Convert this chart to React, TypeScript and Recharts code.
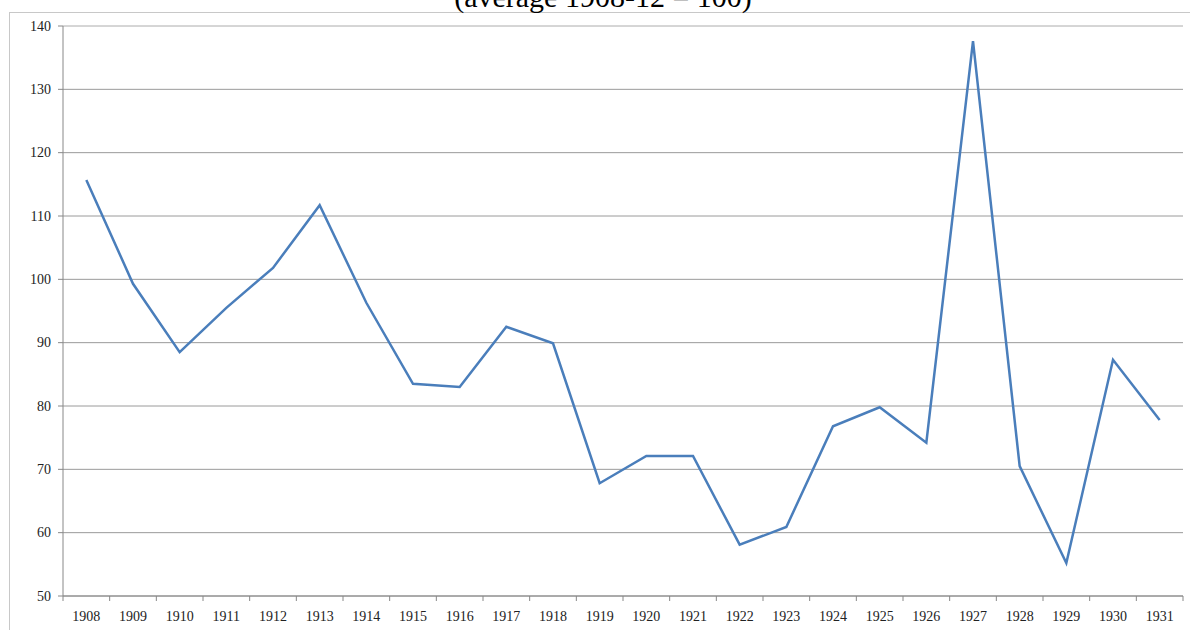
import React from 'react';
import { LineChart, Line, XAxis, YAxis, CartesianGrid, ReferenceLine } from 'recharts';

const years = ['1908','1909','1910','1911','1912','1913','1914','1915','1916','1917','1918','1919','1920','1921','1922','1923','1924','1925','1926','1927','1928','1929','1930','1931'];
const values = [115.7, 99.3, 88.5, 95.5, 101.8, 111.7, 96.3, 83.5, 83.0, 92.5, 89.9, 67.8, 72.1, 72.1, 58.1, 60.9, 76.8, 79.8, 74.2, 137.6, 70.5, 55.2, 87.3, 77.8];
const yTicks = [50, 60, 70, 80, 90, 100, 110, 120, 130, 140];
const title = '(average 1908-12 = 100)';

const W = 1190;
const H = 630;
const margin = { top: 26, right: 7, bottom: 4, left: 10 };
const yAxisWidth = 53;
const plotWidth = W - margin.left - margin.right - yAxisWidth;

const data = values.map((v, i) => ({ x: i + 0.5, year: years[i], value: v }));
const xTicks = Array.from({ length: years.length + 1 }, (_, i) => i);

const fontFamily = '"Liberation Serif", "DejaVu Serif", serif';

const XTick = (props: any) => {
  const { x, y, payload } = props;
  const idx = payload.value as number;
  const step = plotWidth / years.length;
  return (
    <g>
      <line x1={x} y1={y} x2={x} y2={y + 5} stroke="#888" strokeWidth={1} />
      {idx < years.length && (
        <text x={x + step / 2} y={y + 25} textAnchor="middle" fontSize={14} fill="#222" fontFamily={fontFamily}>
          {years[idx]}
        </text>
      )}
    </g>
  );
};

const YTick = (props: any) => {
  const { x, y, payload } = props;
  return (
    <g>
      <line x1={x - 5} y1={y} x2={x} y2={y} stroke="#888" strokeWidth={1} />
      <text x={x - 12} y={y + 4.5} textAnchor="end" fontSize={14} fill="#222" fontFamily={fontFamily}>
        {payload.value}
      </text>
    </g>
  );
};

export default function App() {
  return (
    <div style={{ position: 'absolute', left: 0, top: 0, width: W, height: H, overflow: 'hidden', background: '#fff' }}>
      <div style={{ position: 'absolute', left: 9, top: 12, width: W, height: H, border: '1px solid #c8c8c8', boxSizing: 'border-box' }} />
      <div style={{ position: 'absolute', left: 8, top: -18, width: W, textAlign: 'center', fontFamily, fontSize: 30, color: '#000', lineHeight: '30px' }}>
        {title}
      </div>
      <div style={{ position: 'absolute', left: 0, top: 0 }}>
        <LineChart width={W} height={H} data={data} margin={margin}>
          <CartesianGrid vertical={false} stroke="#9a9a9a" strokeWidth={1} />
          <ReferenceLine y={140} stroke="#dedede" strokeWidth={1} />
          <XAxis
            dataKey="x"
            type="number"
            domain={[0, years.length]}
            ticks={xTicks}
            interval={0}
            tickLine={false}
            tickSize={0}
            tickMargin={0}
            axisLine={{ stroke: '#888' }}
            tick={<XTick />}
            height={30}
          />
          <YAxis
            type="number"
            domain={[50, 140]}
            ticks={yTicks}
            interval={0}
            width={yAxisWidth}
            tickLine={false}
            tickSize={0}
            tickMargin={0}
            axisLine={{ stroke: '#888' }}
            tick={<YTick />}
          />
          <Line
            type="linear"
            dataKey="value"
            stroke="#4a7ebb"
            strokeWidth={2.5}
            dot={false}
            isAnimationActive={false}
          />
        </LineChart>
      </div>
    </div>
  );
}
